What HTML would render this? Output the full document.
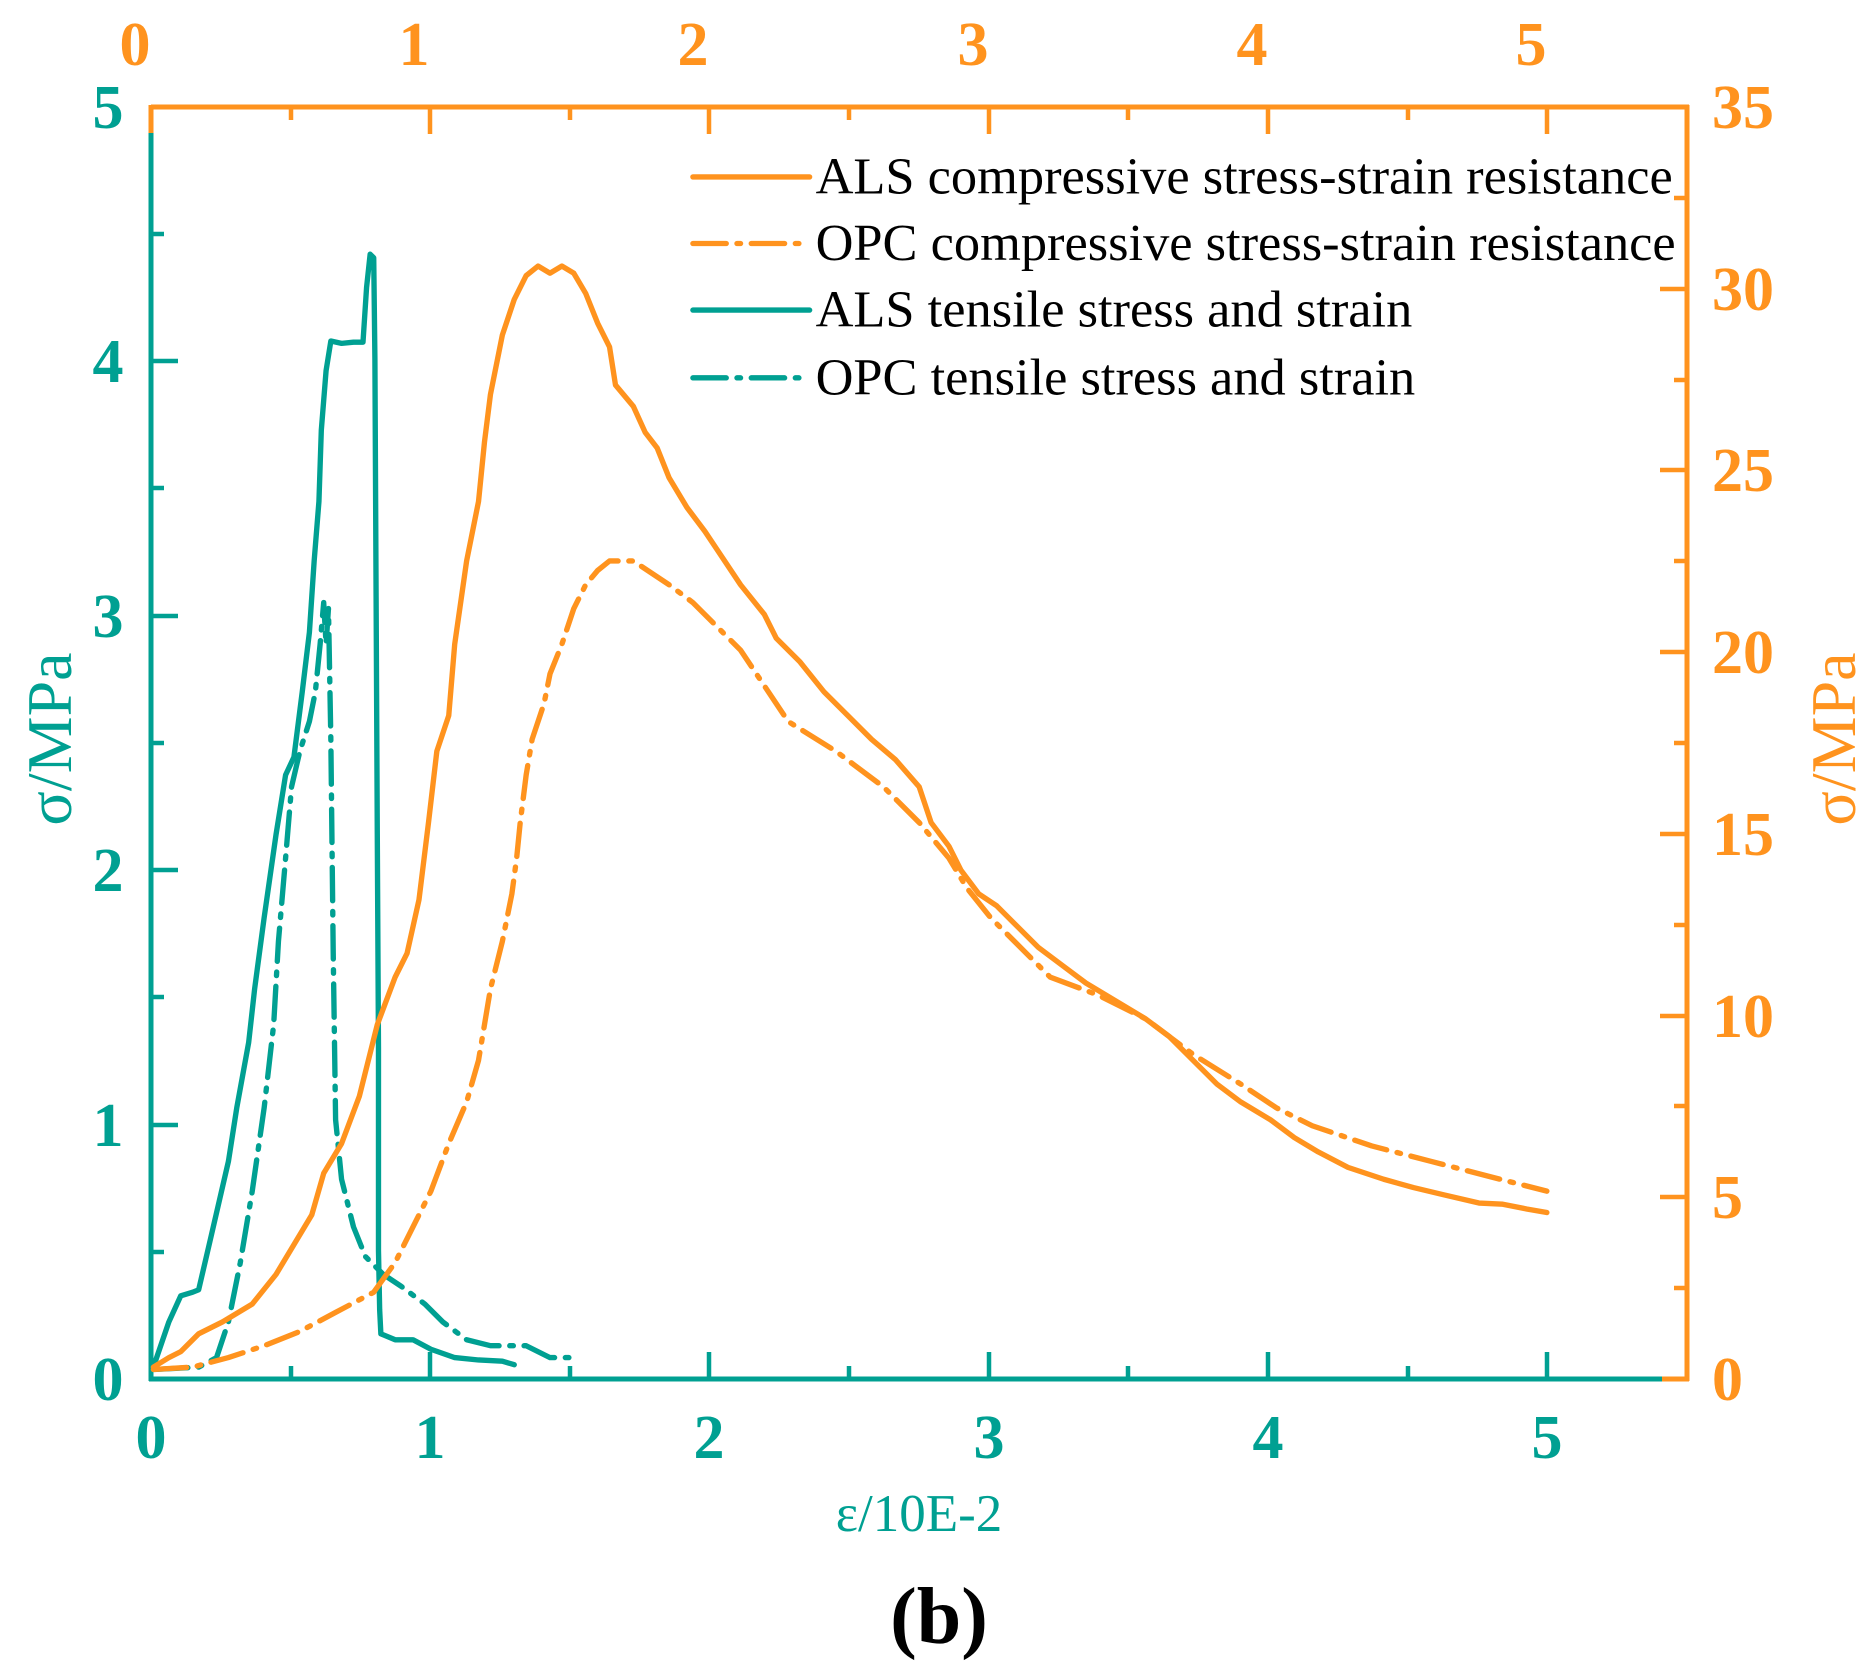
<!DOCTYPE html>
<html><head><meta charset="utf-8"><style>
html,body{margin:0;padding:0;background:#fff}
svg{display:block}
text{font-family:"Liberation Serif",serif}
</style></head><body>
<svg width="1869" height="1667" viewBox="0 0 1869 1667" xmlns="http://www.w3.org/2000/svg">
<g stroke-width="5" fill="none">
  <line x1="151" y1="107" x2="1689" y2="107" stroke="#FF931E"/>
  <line x1="1687" y1="105" x2="1687" y2="1381" stroke="#FF931E"/>
  <line x1="151" y1="105" x2="151" y2="133" stroke="#FF931E"/>
  <line x1="151" y1="133" x2="151" y2="1381" stroke="#00A092"/>
  <line x1="149" y1="1379" x2="1662" y2="1379" stroke="#00A092"/>
  <line x1="1662" y1="1379" x2="1689" y2="1379" stroke="#FF931E"/>
</g>
<g stroke-width="4.5">
<g stroke="#00A092">
<path d="M151 1379v-27M430 1379v-27M709 1379v-27M989 1379v-27M1268 1379v-27M1547 1379v-27"/>
<path d="M291 1379v-13M570 1379v-13M849 1379v-13M1128 1379v-13M1408 1379v-13"/>
<path d="M151 1379h27M151 1125h27M151 870h27M151 616h27M151 361h27"/>
<path d="M151 1252h13M151 997h13M151 743h13M151 488h13M151 234h13"/>
</g>
<g stroke="#FF931E">
<path d="M430 107v27M709 107v27M989 107v27M1268 107v27M1547 107v27"/>
<path d="M291 107v13M570 107v13M849 107v13M1128 107v13M1408 107v13"/>
<path d="M1687 1197h-27M1687 1016h-27M1687 834h-27M1687 652h-27M1687 470h-27M1687 289h-27"/>
<path d="M1687 1288h-13M1687 1106h-13M1687 925h-13M1687 743h-13M1687 561h-13M1687 380h-13M1687 198h-13"/>
</g>
</g>
<g font-weight="bold" font-size="62" text-anchor="middle" fill="#00A092">
<text x="151" y="1458">0</text><text x="430" y="1458">1</text><text x="709" y="1458">2</text><text x="989" y="1458">3</text><text x="1268" y="1458">4</text><text x="1547" y="1458">5</text>
<text x="108" y="1400">0</text><text x="108" y="1146">1</text><text x="108" y="891">2</text><text x="108" y="637">3</text><text x="108" y="382">4</text><text x="108" y="128">5</text>
</g>
<g font-weight="bold" font-size="62" text-anchor="middle" fill="#FF931E">
<text x="135" y="65">0</text><text x="414" y="65">1</text><text x="693" y="65">2</text><text x="973" y="65">3</text><text x="1252" y="65">4</text><text x="1531" y="65">5</text>
</g>
<g font-weight="bold" font-size="62" text-anchor="start" fill="#FF931E">
<text x="1712" y="1400">0</text><text x="1712" y="1218">5</text><text x="1712" y="1037">10</text><text x="1712" y="855">15</text><text x="1712" y="673">20</text><text x="1712" y="491">25</text><text x="1712" y="310">30</text><text x="1712" y="128">35</text>
</g>
<text x="0" y="0" font-size="64" fill="#00A092" text-anchor="middle" transform="translate(71,739) rotate(-90)">σ/MPa</text>
<text x="0" y="0" font-size="64" fill="#FF931E" text-anchor="middle" transform="translate(1855,739) rotate(-90)">σ/MPa</text>
<text x="919" y="1531" font-size="53" fill="#00A092" text-anchor="middle">ε/10E-2</text>
<text x="939" y="1643" font-size="80" font-weight="bold" fill="#000" text-anchor="middle">(b)</text>

<g transform="translate(151,1379) scale(1.191,1.189) translate(-125,-1158)" fill="none" stroke-width="4.5" stroke-linejoin="round" stroke-linecap="round">
<polyline stroke="#00A092" points="127,1148 140,1110 150,1088 160,1085 165,1083 175,1040 190,975 197,930 207,875 212,830 220,770 230,700 238,650 245,635 252,580 258,530 262,470 266,420 268,360 272,310 276,285 285,287 295,286 303,286 306,240 309,212 312,215 313,300 314,500 315,700 316,880 316,1000 316,1050 317,1100 318,1120 330,1125 345,1125 360,1133 380,1140 400,1142 420,1143 430,1146"/>
<polyline stroke="#00A092" stroke-dasharray="28 9 3 9" points="128,1150 165,1148 180,1140 190,1110 200,1060 210,1000 220,930 228,860 232,790 238,720 243,660 250,630 258,605 263,580 267,540 270,505 272,540 274,510 276,620 278,800 280,940 285,990 295,1030 305,1055 320,1070 335,1080 355,1095 370,1110 390,1125 410,1130 440,1130 460,1140 478,1140"/>
<polyline stroke="#FF931E" points="127,1148 140,1140 150,1135 165,1120 185,1110 210,1095 230,1070 245,1045 260,1020 270,985 285,960 300,920 315,860 330,820 340,800 350,755 358,690 365,630 375,600 380,540 390,470 400,420 405,370 410,330 420,280 430,250 440,230 450,222 460,228 470,222 480,228 490,245 500,270 510,290 515,322 530,340 540,362 550,375 560,400 575,425 590,445 600,460 620,490 640,515 650,535 670,555 690,580 710,600 730,620 750,637 770,660 780,690 795,710 805,730 820,750 835,760 850,775 870,795 890,810 910,825 935,840 960,855 980,870 1000,890 1020,910 1040,925 1065,940 1085,955 1105,967 1130,980 1160,990 1185,997 1210,1003 1240,1010 1260,1011 1280,1015 1297,1018"/>
<polyline stroke="#FF931E" stroke-dasharray="28 9 3 9" points="127,1150 160,1148 190,1140 220,1130 250,1118 280,1102 312,1085 330,1060 345,1030 360,1000 375,960 390,925 400,890 405,860 410,830 420,790 428,750 432,720 435,690 440,650 445,620 455,590 460,565 470,540 480,510 490,490 500,478 510,470 530,470 545,480 560,490 580,505 600,525 620,545 640,575 660,605 700,630 740,660 770,690 795,720 810,745 830,770 860,800 880,820 920,835 960,855 1000,885 1040,910 1070,930 1100,945 1150,962 1200,975 1250,988 1297,1000"/>
<line x1="580" y1="147" x2="678" y2="147" stroke="#FF931E"/>
<line x1="580" y1="203" x2="678" y2="203" stroke="#FF931E" stroke-dasharray="28 9 3 9"/>
<line x1="580" y1="259" x2="678" y2="259" stroke="#00A092"/>
<line x1="580" y1="316" x2="678" y2="316" stroke="#00A092" stroke-dasharray="28 9 3 9"/>
<g fill="#000" stroke="none" font-size="44">
<text x="683" y="161">ALS compressive stress-strain resistance</text>
<text x="683" y="217">OPC compressive stress-strain resistance</text>
<text x="683" y="273">ALS tensile stress and strain</text>
<text x="683" y="330">OPC tensile stress and strain</text>
</g>
</g>
</svg>
</body></html>
